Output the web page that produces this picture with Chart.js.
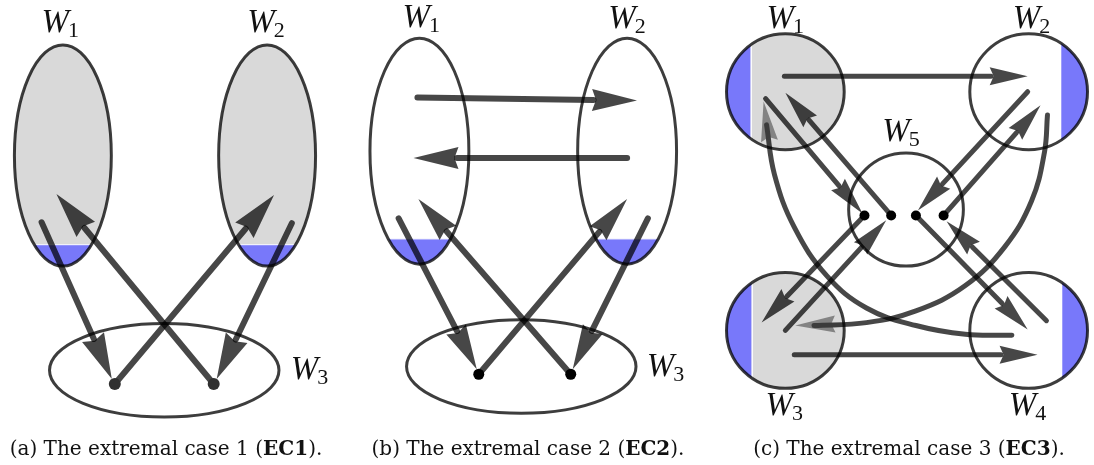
<!DOCTYPE html>
<html><head><meta charset="utf-8">
<script src="https://cdn.jsdelivr.net/npm/chart.js@4.4.1/dist/chart.umd.min.js"></script>
<style>
html,body{margin:0;padding:0;background:#fff;}
#wrap{position:relative;width:1094px;height:465px;overflow:hidden;background:#fff;}
#c{position:absolute;left:0;top:0;}
.cap{position:absolute;font-family:"DejaVu Serif";font-size:17px;color:#111;white-space:nowrap;line-height:1;}
</style></head><body>
<div id="wrap">
<canvas id="c" width="1094" height="465"></canvas>
<div class="cap" id="cap0">(a) The extremal case 1 (<b>EC1</b>).</div>
<div class="cap" id="cap1">(b) The extremal case 2 (<b>EC2</b>).</div>
<div class="cap" id="cap2">(c) The extremal case 3 (<b>EC3</b>).</div>
</div>
<script>
// ---------------- data ----------------
const regionPanel = ['a','a','a','b','b','b','c','c','c','c','c'];
const regionName  = ['W1','W2','W3','W1','W2','W3','W1','W2','W3','W4','W5'];
const regionCX = [57.5, 264, 160, 418, 628, 521, 788, 1034, 788, 1034, 910];
const regionCY = [153.5, 153.5, 374, 149, 149, 370, 88, 88, 333, 333, 209];
const regionRX = [49, 49, 116, 50, 50, 116, 59.5, 59.5, 59.5, 59.5, 58];
const regionRY = [113.5, 113.5, 48, 116, 116, 48, 59.5, 59.5, 59.5, 59.5, 58];
const regionShaded = [1, 1, 0, 0, 0, 0, 1, 0, 1, 0, 0];
const regionBlueSide = ['below','below','none','below','below','none','left','right','left','right','none'];
const regionBlueEdge = [245, 245, 0, 239, 239, 0, 753, 1067, 754, 1068, 0];

const arrowPanel = ['a','a','a','a','b','b','b','b','b','b','c','c','c','c','c','c','c','c','c','c'];
const arrowX0 = [36, 110, 210, 289, 416, 628, 397, 478, 571, 649, 787, 797, 768, 895, 1033, 948, 868, 788, 920, 1052];
const arrowY0 = [222, 388, 388, 223, 94, 156, 218, 378, 378, 218, 72, 358, 95, 215, 88, 215, 215, 333, 215, 323];
const arrowX1 = [107, 271, 51, 213, 638, 412, 476, 628, 417, 573, 1033, 1043, 866, 788, 922, 1046, 764, 890, 1033, 951];
const arrowY1 = [383, 194, 193, 383, 97, 156, 373, 198, 198, 373, 72, 358, 213, 89, 210, 102, 325, 220, 332, 221];

const curve1X = [1053, 1050, 1037, 1010, 970, 920, 870, 817];
const curve1Y = [112, 150, 200, 247, 287, 313, 325, 328];
const curve1Tip = [798, 328];
const curve2X = [1017, 970, 920, 870, 830, 797, 777, 769];
const curve2Y = [338, 337, 328, 310, 277, 227, 173, 122];
const curve2Tip = [766, 98];

const dotPanel = ['a','a','b','b','c','c','c','c'];
const dotX = [110, 210, 478, 571, 868, 895, 920, 948];
const dotY = [388, 388, 378, 378, 215, 215, 215, 215];

const labelMain = ['W','W','W','W','W','W','W','W','W','W','W'];
const labelSub  = ['1','2','3','1','2','3','1','2','5','3','4'];
const labelX = [40, 248, 292, 405, 613, 652, 773, 1022, 890, 772, 1018];
const labelY = [27, 27, 383, 22, 23, 380, 23, 23, 139, 420, 420];

const captionCenter = [166, 528, 909];
const captionWidth = [313, 313, 312];

// ---------------- styles ----------------
const panelStyle = {
  a: {lw: 6, headLen: 46, headHalf: 12, dot: 6, dotColor: '#303030'},
  b: {lw: 6, headLen: 45, headHalf: 11, dot: 5.5, dotColor: '#000'},
  c: {lw: 5, headLen: 38, headHalf: 9, dot: 5, dotColor: '#000'}
};
const LINE = 'rgba(0,0,0,0.72)';
const CURVE_HEAD = 'rgba(60,60,60,0.55)';
const GRAY = '#d9d9d9';
const BLUE = '#7878fa';
const EDGE = 'rgba(0,0,0,0.76)';
const LABEL_BEARING = -4;

// ---------------- datasets ----------------
const datasets = [];
datasets.push({
  label: 'dots',
  data: dotX.map((x, i) => ({x, y: dotY[i]})),
  showLine: false,
  pointRadius: dotPanel.map(p => panelStyle[p].dot),
  pointBackgroundColor: dotPanel.map(p => panelStyle[p].dotColor),
  pointBorderWidth: 0,
  clip: false
});
arrowX0.forEach((x0, i) => {
  const st = panelStyle[arrowPanel[i]];
  const x1 = arrowX1[i], y0 = arrowY0[i], y1 = arrowY1[i];
  const len = Math.hypot(x1 - x0, y1 - y0);
  const ux = (x1 - x0) / len, uy = (y1 - y0) / len;
  const ex = x1 - ux * (st.headLen - 1), ey = y1 - uy * (st.headLen - 1);
  datasets.push({
    label: 'arrow' + i,
    data: [{x: x0, y: y0}, {x: ex, y: ey}],
    showLine: true, pointRadius: 0, borderColor: LINE, borderWidth: st.lw,
    borderCapStyle: 'round', tension: 0, clip: false,
    head: {tip: [x1, y1], from: [x0, y0], len: st.headLen, half: st.headHalf, color: LINE}
  });
});
[[curve1X, curve1Y, curve1Tip], [curve2X, curve2Y, curve2Tip]].forEach(([cx, cy, tip], k) => {
  const n = cx.length;
  datasets.push({
    label: 'curve' + k,
    data: cx.map((x, i) => ({x, y: cy[i]})),
    showLine: true, pointRadius: 0, borderColor: LINE, borderWidth: 5,
    borderCapStyle: 'round', borderJoinStyle: 'round', tension: 0.4, clip: false,
    head: {tip: tip, from: [cx[n - 2], cy[n - 2]], len: 40, half: 8.5, color: CURVE_HEAD}
  });
});

// ---------------- plugin ----------------
const diagram = {
  id: 'diagram',
  beforeDatasetsDraw(chart) {
    const {ctx, scales: {x, y}} = chart;
    regionCX.forEach((cxv, i) => {
      const px = x.getPixelForValue(cxv), py = y.getPixelForValue(regionCY[i]);
      const rx = Math.abs(x.getPixelForValue(cxv + regionRX[i]) - px);
      const ry = Math.abs(y.getPixelForValue(regionCY[i] + regionRY[i]) - py);
      ctx.save();
      ctx.beginPath(); ctx.ellipse(px, py, rx, ry, 0, 0, Math.PI * 2);
      ctx.clip();
      if (regionShaded[i]) { ctx.fillStyle = GRAY; ctx.fillRect(px - rx - 2, py - ry - 2, rx * 2 + 4, ry * 2 + 4); }
      const side = regionBlueSide[i];
      if (side !== 'none') {
        ctx.fillStyle = BLUE;
        let ex;
        if (side === 'below') {
          ex = y.getPixelForValue(regionBlueEdge[i]);
          ctx.fillRect(px - rx - 2, ex, rx * 2 + 4, py + ry + 2 - ex);
          ctx.strokeStyle = 'rgba(255,255,255,0.8)'; ctx.lineWidth = 1.2;
          ctx.beginPath(); ctx.moveTo(px - rx, ex); ctx.lineTo(px + rx, ex); ctx.stroke();
        } else if (side === 'left') {
          ex = x.getPixelForValue(regionBlueEdge[i]);
          ctx.fillRect(px - rx - 2, py - ry - 2, ex - (px - rx - 2), ry * 2 + 4);
          ctx.strokeStyle = 'rgba(255,255,255,0.9)'; ctx.lineWidth = 1.5;
          ctx.beginPath(); ctx.moveTo(ex + 0.5, py - ry); ctx.lineTo(ex + 0.5, py + ry); ctx.stroke();
        } else {
          ex = x.getPixelForValue(regionBlueEdge[i]);
          ctx.fillRect(ex, py - ry - 2, px + rx + 2 - ex, ry * 2 + 4);
        }
      }
      ctx.restore();
      ctx.save();
      ctx.beginPath(); ctx.ellipse(px, py, rx, ry, 0, 0, Math.PI * 2);
      ctx.strokeStyle = EDGE; ctx.lineWidth = 3; ctx.stroke();
      ctx.restore();
    });
  },
  afterDatasetDraw(chart, args) {
    const ds = chart.data.datasets[args.index];
    if (!ds.head) return;
    const {ctx, scales: {x, y}} = chart;
    const tx = x.getPixelForValue(ds.head.tip[0]), ty = y.getPixelForValue(ds.head.tip[1]);
    const fx = x.getPixelForValue(ds.head.from[0]), fy = y.getPixelForValue(ds.head.from[1]);
    const len = Math.hypot(tx - fx, ty - fy);
    const ux = (tx - fx) / len, uy = (ty - fy) / len;
    const bx = tx - ux * ds.head.len, by = ty - uy * ds.head.len;
    const nx = -uy, ny = ux;
    ctx.save();
    ctx.fillStyle = ds.head.color;
    ctx.beginPath();
    ctx.moveTo(tx, ty);
    ctx.lineTo(bx + nx * ds.head.half, by + ny * ds.head.half);
    ctx.lineTo(bx + ux * 4, by + uy * 4);
    ctx.lineTo(bx - nx * ds.head.half, by - ny * ds.head.half);
    ctx.closePath();
    ctx.fill();
    ctx.restore();
  },
  afterDraw(chart) {
    const {ctx, scales: {x, y}} = chart;
    ctx.save();
    ctx.fillStyle = '#111';
    ctx.textBaseline = 'alphabetic';
    labelMain.forEach((t, i) => {
      const px = x.getPixelForValue(labelX[i]) + LABEL_BEARING, py = y.getPixelForValue(labelY[i]);
      ctx.font = 'italic 33px "Liberation Serif"';
      ctx.fillText(t, px, py);
      const w = ctx.measureText(t).width;
      ctx.font = '22px "Liberation Serif"';
      ctx.fillText(labelSub[i], px + w - 1, py + 5);
    });
    ctx.restore();
  }
};

new Chart(document.getElementById('c'), {
  type: 'scatter',
  data: {datasets},
  options: {
    responsive: false, animation: false,
    layout: {padding: 0},
    plugins: {legend: {display: false}, tooltip: {enabled: false}},
    elements: {line: {capBezierPoints: false}},
    scales: {
      x: {type: 'linear', min: 0, max: 1094, display: false},
      y: {type: 'linear', min: 0, max: 465, reverse: true, display: false}
    }
  },
  plugins: [diagram]
});

// captions: fit to measured width
[0, 1, 2].forEach(i => {
  const el = document.getElementById('cap' + i);
  const w0 = el.getBoundingClientRect().width;
  const fs = 17 * captionWidth[i] / w0;
  el.style.fontSize = fs.toFixed(2) + 'px';
  const w = el.getBoundingClientRect().width;
  el.style.left = (captionCenter[i] - w / 2) + 'px';
  el.style.top = (455 - 0.845 * fs) + 'px';
});
</script>
</body></html>
